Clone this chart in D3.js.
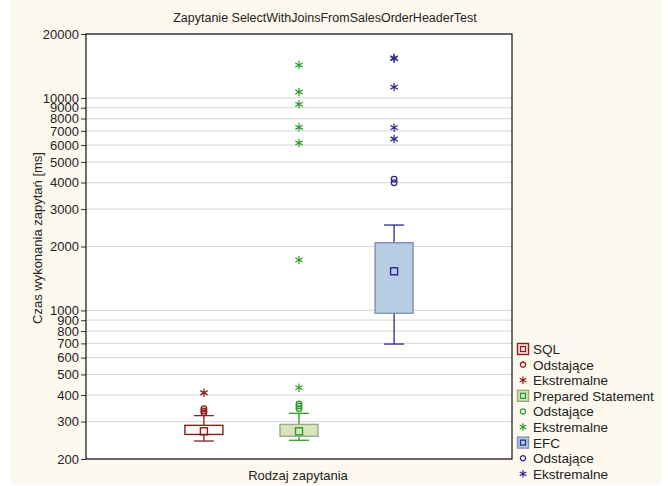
<!DOCTYPE html>
<html>
<head>
<meta charset="utf-8">
<script src="https://cdn.jsdelivr.net/npm/d3@7"></script>
<style>
  body { margin: 0; background: #fff; }
  text { font-family: "Liberation Sans", Arial, sans-serif; fill: #222; }
</style>
</head>
<body>
<svg id="chart" width="668" height="486"></svg>
<script>
/* Box plots of query times for three query types, log y axis. */

const categories = ['SQL', 'Prepared Statement', 'EFC'];
// [whisker low, q1, median, q3, whisker high]
const boxStats = [
    [243, 261, 270, 288, 320],
    [245, 256, 270, 291, 328],
    [695, 970, 1529, 2084, 2524]
];
const outliers = [
    [330, 337, 345],
    [345, 355, 363],
    [3990, 4150]
];
const extremes = [
    [410],
    [433, 1730, 6140, 7280, 9340, 10670, 14290],
    [6410, 7250, 11260, 15300, 15450]
];
const yTicks = [200, 300, 400, 500, 600, 700, 800, 900, 1000, 2000, 3000, 4000, 5000, 6000, 7000, 8000, 9000, 10000, 20000];
const legendLabels = ['Odstające', 'Ekstremalne'];

const colors = [
    {line: '#8c1c1c', fill: '#ffffff', border: '#a33a3a', legendFill: '#f6eaea'},
    {line: '#2e9a2e', fill: '#d8e4bc', border: '#9aaa80', legendFill: '#d8e4bc'},
    {line: '#2a2a8c', fill: '#b8cce4', border: '#7f93ad', legendFill: '#b8cce4'}
];

const svg = d3.select('#chart');
const plot = {left: 86, right: 512, top: 34, bottom: 459};

// cream page background
svg.append('rect')
    .attr('x', 11).attr('y', 0)
    .attr('width', 650).attr('height', 485)
    .attr('fill', '#fef9ef');
svg.append('rect')
    .attr('x', plot.left).attr('y', plot.top)
    .attr('width', plot.right - plot.left).attr('height', plot.bottom - plot.top)
    .attr('fill', '#ffffff');

const x = d3.scalePoint()
    .domain(categories)
    .range([plot.left, plot.right])
    .padding(1.24);
const y = d3.scaleLog()
    .domain([200, 20000])
    .range([plot.bottom, plot.top]);

// grid
svg.append('g')
    .selectAll('line')
    .data(yTicks)
    .join('line')
    .attr('x1', plot.left).attr('x2', plot.right)
    .attr('y1', d => y(d)).attr('y2', d => y(d))
    .attr('stroke', '#dcdcdc')
    .attr('stroke-width', 1.2);

// y axis
const yAxis = svg.append('g')
    .attr('transform', `translate(${plot.left},0)`)
    .call(d3.axisLeft(y).tickValues(yTicks).tickFormat(d3.format('d')).tickSize(5).tickSizeOuter(0));
yAxis.select('.domain').remove();
yAxis.selectAll('.tick line').attr('stroke', '#333');
yAxis.selectAll('.tick text')
    .attr('x', -7)
    .style('font-size', '13px')
    .style('font-family', '"Liberation Sans", Arial, sans-serif')
    .attr('fill', '#222');

// frame
svg.append('rect')
    .attr('x', plot.left).attr('y', plot.top)
    .attr('width', plot.right - plot.left).attr('height', plot.bottom - plot.top)
    .attr('fill', 'none')
    .attr('stroke', '#111')
    .attr('stroke-width', 1.2);

const boxW = 38, capW = 20;
const star = d3.symbol().type(d3.symbolAsterisk).size(50);

categories.forEach((cat, i) => {
    const cx = x(cat);
    const [lo, q1, med, q3, hi] = boxStats[i];
    const c = colors[i];
    const g = svg.append('g');
    g.append('line')
        .attr('x1', cx).attr('x2', cx)
        .attr('y1', y(lo)).attr('y2', y(hi))
        .attr('stroke', c.line).attr('stroke-width', 1.3);
    g.selectAll('line.cap')
        .data([lo, hi])
        .join('line')
        .attr('class', 'cap')
        .attr('x1', cx - capW / 2).attr('x2', cx + capW / 2)
        .attr('y1', d => y(d)).attr('y2', d => y(d))
        .attr('stroke', c.line).attr('stroke-width', 1.3);
    g.append('rect')
        .attr('x', cx - boxW / 2).attr('y', y(q3))
        .attr('width', boxW).attr('height', y(q1) - y(q3))
        .attr('fill', c.fill)
        .attr('stroke', i === 0 ? c.line : c.border)
        .attr('stroke-width', 1.4);
    g.append('rect')
        .attr('x', cx - 3.5).attr('y', y(med) - 3.5)
        .attr('width', 7).attr('height', 7)
        .attr('fill', 'none')
        .attr('stroke', c.line).attr('stroke-width', 1.4);
    g.selectAll('circle')
        .data(outliers[i])
        .join('circle')
        .attr('cx', cx).attr('cy', d => y(d))
        .attr('r', 2.8)
        .attr('fill', 'none')
        .attr('stroke', c.line).attr('stroke-width', 1.3);
    g.selectAll('path.ext')
        .data(extremes[i])
        .join('path')
        .attr('class', 'ext')
        .attr('d', star)
        .attr('transform', d => `translate(${cx},${y(d)})`)
        .attr('fill', 'none')
        .attr('stroke', c.line).attr('stroke-width', 1.2);
});

// titles
svg.append('text')
    .attr('x', 325).attr('y', 22)
    .attr('text-anchor', 'middle')
    .style('font-size', '12.5px')
    .text('Zapytanie SelectWithJoinsFromSalesOrderHeaderTest');
svg.append('text')
    .attr('x', 298).attr('y', 480)
    .attr('text-anchor', 'middle')
    .style('font-size', '13px')
    .text('Rodzaj zapytania');
svg.append('text')
    .attr('transform', 'translate(42,238) rotate(-90)')
    .attr('text-anchor', 'middle')
    .style('font-size', '13px')
    .text('Czas wykonania zapytań [ms]');

// legend
const legendRows = [];
categories.forEach((cat, i) => {
    legendRows.push({kind: 'box', label: cat, i});
    legendRows.push({kind: 'out', label: legendLabels[0], i});
    legendRows.push({kind: 'ext', label: legendLabels[1], i});
});
const legend = svg.append('g').attr('transform', 'translate(523,349)');
legendRows.forEach((r, k) => {
    const gy = k * 15.6;
    const c = colors[r.i];
    const row = legend.append('g').attr('transform', `translate(0,${gy})`);
    if (r.kind === 'box') {
        row.append('rect')
            .attr('x', -5.5).attr('y', -5.5).attr('width', 11).attr('height', 11)
            .attr('fill', c.legendFill)
            .attr('stroke', r.i === 0 ? c.line : c.border).attr('stroke-width', 1.4);
        row.append('rect')
            .attr('x', -2.5).attr('y', -2.5).attr('width', 5).attr('height', 5)
            .attr('fill', 'none')
            .attr('stroke', c.line).attr('stroke-width', 1.3);
    } else if (r.kind === 'out') {
        row.append('circle')
            .attr('r', 2.6)
            .attr('fill', 'none')
            .attr('stroke', c.line).attr('stroke-width', 1.3);
    } else {
        row.append('path')
            .attr('d', d3.symbol().type(d3.symbolAsterisk).size(40)())
            .attr('fill', 'none')
            .attr('stroke', c.line).attr('stroke-width', 1.2);
    }
    row.append('text')
        .attr('x', 10).attr('y', 5)
        .style('font-size', '13.5px')
        .text(r.label);
});
</script>
</body>
</html>
